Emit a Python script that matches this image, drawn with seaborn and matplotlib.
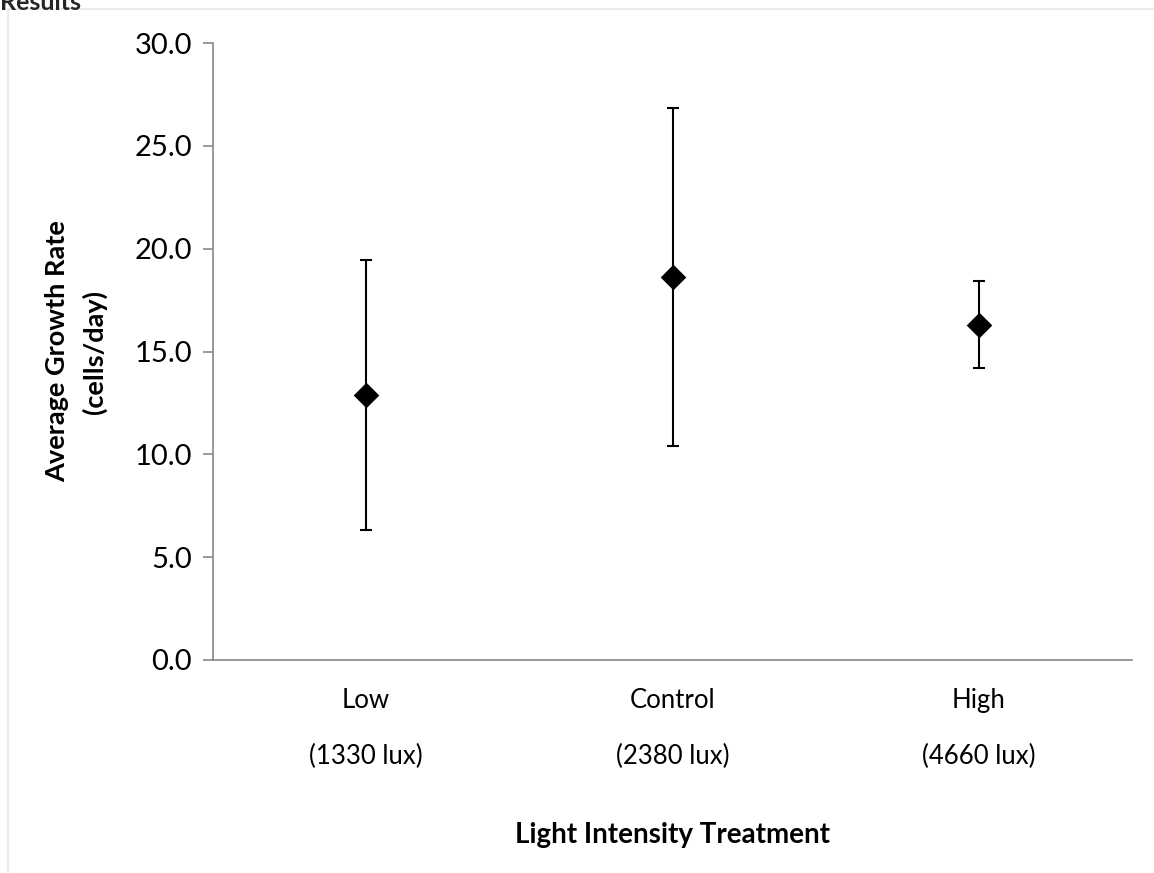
import matplotlib
matplotlib.use("Agg")
import matplotlib.pyplot as plt
import seaborn as sns
import pandas as pd
from matplotlib.lines import Line2D

categories = ["Low", "Control", "High"]
lux_labels = ["(1330 lux)", "(2380 lux)", "(4660 lux)"]
means = [12.87, 18.64, 16.30]
errors = [6.57, 8.22, 2.12]
y_ticks = [0.0, 5.0, 10.0, 15.0, 20.0, 25.0, 30.0]

df = pd.DataFrame({"cat": categories, "mean": means, "err": errors})

sns.set_style("white")
plt.rcParams["font.family"] = ["Lato", "DejaVu Sans"]

W, H = 1154, 873
fig = plt.figure(figsize=(W / 100, H / 100), dpi=100)
ax = fig.add_axes([213 / W, 1 - 660 / H, (1132 - 213) / W, (660 - 43) / H])

ax.errorbar(range(len(categories)), df["mean"], yerr=df["err"], fmt="none",
            ecolor="black", elinewidth=1.5, capsize=4.5, capthick=1.5, zorder=2)
sns.scatterplot(x=range(len(categories)), y=df["mean"], marker="D", s=170,
                color="black", edgecolor="black", linewidth=0, ax=ax, zorder=3)

ax.set_xlim(-0.5, 2.5)
ax.set_ylim(0, 30)
ax.set_yticks(y_ticks)
ax.set_yticklabels([f"{v:.1f}" for v in y_ticks], fontsize=21, color="black")

ax.set_xticks(range(len(categories)))
ax.set_xticklabels([f"{c}\n{l}" for c, l in zip(categories, lux_labels)],
                   fontsize=18.5, linespacing=2.55, color="black")
ax.set_xticks([-0.5, 0.5, 1.5, 2.5], minor=True)
ax.tick_params(axis="x", which="major", length=0, pad=20)
ax.tick_params(axis="x", which="minor", length=7, width=1.2, color="#888888", direction="out")
ax.tick_params(axis="y", which="major", length=7, width=1.2, color="#888888",
               direction="out", pad=8, left=True)

for side in ["top", "right"]:
    ax.spines[side].set_visible(False)
for side in ["left", "bottom"]:
    ax.spines[side].set_color("#888888")
    ax.spines[side].set_linewidth(1.2)

ax.set_ylabel("Average Growth Rate\n(cells/day)", fontsize=19.5, fontweight="bold",
              labelpad=20, linespacing=1.6, color="black")
ax.set_xlabel("Light Intensity Treatment", fontsize=20, fontweight="bold",
              labelpad=38, color="black")

fig.add_artist(Line2D([8 / W, 8 / W], [0, 1 - 9 / H], color="#e8e8e8", lw=1.2))
fig.add_artist(Line2D([8 / W, 1], [1 - 9 / H, 1 - 9 / H], color="#e8e8e8", lw=1.2))
fig.text(0.0, 1 - 2 / H, "Results", fontsize=18, fontweight="bold", va="center", ha="left")

fig.savefig("out.png", dpi=100, facecolor="white")
